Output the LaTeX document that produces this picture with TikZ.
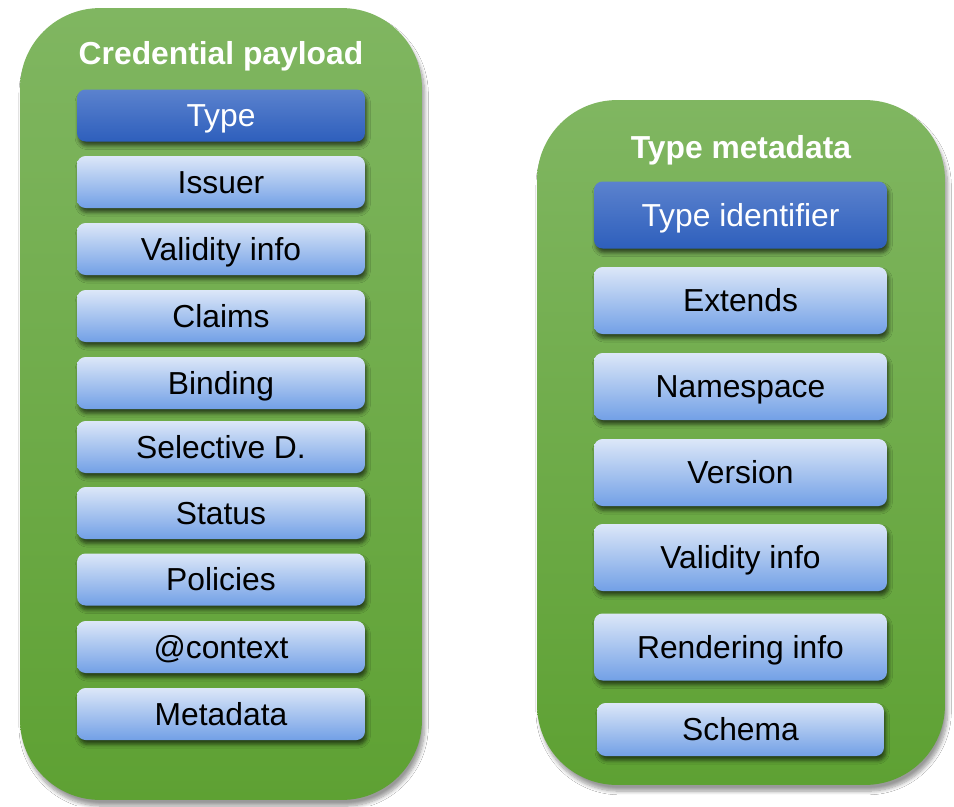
\documentclass[tikz,border=0pt]{standalone}
\usepackage{fontspec}
\setmainfont{Liberation Sans}
\usetikzlibrary{shadows.blur}

\definecolor{grnTop}{HTML}{80B661}
\definecolor{grnBot}{HTML}{5EA133}
\definecolor{ltTop}{HTML}{DCE7F8}
\definecolor{ltBot}{HTML}{72A0E6}
\definecolor{dkTop}{HTML}{5B82CE}
\definecolor{dkBot}{HTML}{2E5FBC}

\tikzset{
  panel/.style={rounded corners=1.6cm, top color=grnTop, bottom color=grnBot,
    draw=none, inner sep=0pt,
    blur shadow={shadow xshift=1.5pt, shadow yshift=-3.5pt, shadow opacity=40, shadow blur steps=8}},
  paneltitle/.style={font=\fontsize{18.1}{21}\selectfont\bfseries, text=white,
    inner sep=0pt, text height=13pt, text depth=0pt},
  field/.style={rounded corners=0.17cm, top color=ltTop, bottom color=ltBot,
    draw=none, inner sep=0pt, text=black,
    font=\fontsize{18.1}{21}\selectfont, text height=13pt, text depth=0pt,
    blur shadow={shadow xshift=1pt, shadow yshift=-2.5pt, shadow opacity=60, shadow blur steps=5}},
  keyfield/.style={field, top color=dkTop, bottom color=dkBot, text=white},
  leftfield/.style={minimum width=5.76cm, minimum height=1.04cm},
  rightfield/.style={minimum width=5.86cm, minimum height=1.34cm},
}

\begin{document}
\begin{tikzpicture}[x=0.02cm, y=-0.02cm]
  \useasboundingbox[fill=white] (0,0) rectangle (954,806);

  % containers
  \node[panel, minimum width=8.04cm, minimum height=15.84cm] (credbox) at (221,404) {};
  \node[panel, minimum width=8.16cm, minimum height=13.7cm] (metabox) at (741,442.5) {};

  % credential payload column
  \node[paneltitle] (credtitle) at (221,53.5) {Credential payload};
  \node[keyfield, leftfield] (ctype) at (221,115.5) {Type};
  \node[field, leftfield] (cissuer) at (221,182) {Issuer};
  \node[field, leftfield] (cvalid) at (221,249) {Validity info};
  \node[field, leftfield] (cclaims) at (221,316) {Claims};
  \node[field, leftfield] (cbinding) at (221,383) {Binding};
  \node[field, leftfield] (csd) at (221,447) {Selective D.};
  \node[field, leftfield] (cstatus) at (221,513) {Status};
  \node[field, leftfield] (cpolicies) at (221,579.5) {Policies};
  \node[field, leftfield] (ccontext) at (221,647) {@context};
  \node[field, leftfield] (cmeta) at (221,714) {Metadata};

  % type metadata column
  \node[paneltitle] (metatitle) at (741,147.5) {Type metadata};
  \node[keyfield, rightfield] (mtypeid) at (740.5,215) {Type identifier};
  \node[field, rightfield] (mextends) at (740.5,300.5) {Extends};
  \node[field, rightfield] (mns) at (740.5,386.5) {Namespace};
  \node[field, rightfield] (mversion) at (740.5,472.5) {Version};
  \node[field, rightfield] (mvalid) at (740.5,557.5) {Validity info};
  \node[field, rightfield] (mrender) at (740.5,647) {Rendering info};
  \node[field, minimum width=5.74cm, minimum height=1.06cm] (mschema) at (740.5,729.5) {Schema};
\end{tikzpicture}
\end{document}
